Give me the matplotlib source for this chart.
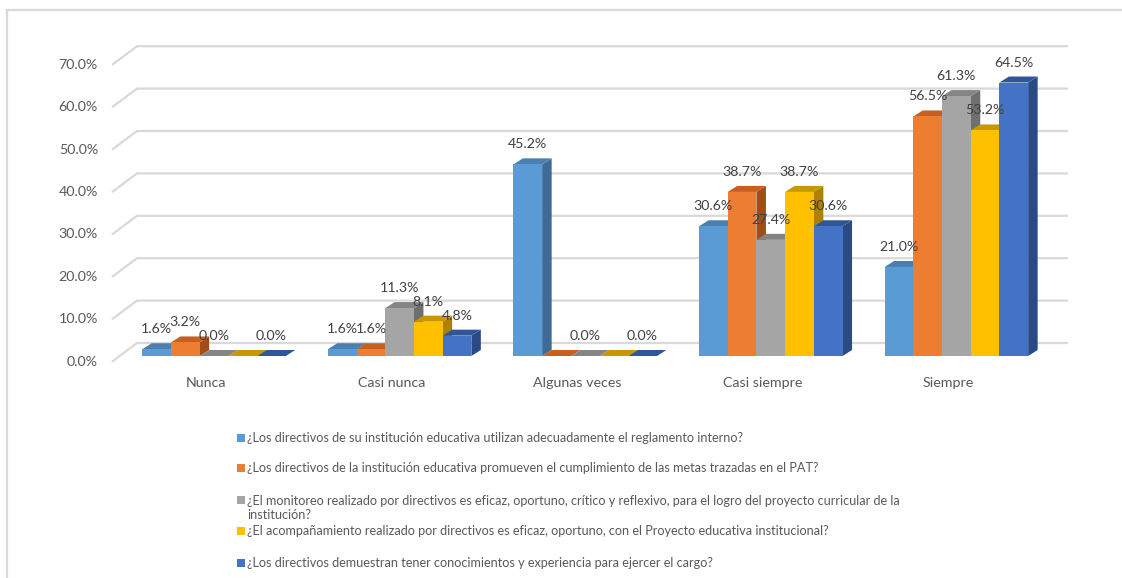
import matplotlib
matplotlib.use("Agg")
import matplotlib.pyplot as plt
from matplotlib.patches import Polygon, Rectangle

plt.rcParams['font.family'] = ['Lato', 'DejaVu Sans']

# respuestas por categoría (%)
categorias = ["Nunca", "Casi nunca", "Algunas veces", "Casi siempre", "Siempre"]
reglamento = [1.6, 1.6, 45.2, 30.6, 21.0]
metas_pat = [3.2, 1.6, 0.0, 38.7, 56.5]
monitoreo = [0.0, 11.3, 0.0, 27.4, 61.3]
acompanamiento = [0.0, 8.1, 0.0, 38.7, 53.2]
conocimientos = [0.0, 4.8, 0.0, 30.6, 64.5]
ticks_y = [0, 10, 20, 30, 40, 50, 60, 70]

preguntas = [
    "¿Los directivos de su institución educativa utilizan adecuadamente el reglamento interno?",
    "¿Los directivos de la institución educativa promueven el cumplimiento de las metas trazadas en el PAT?",
    "¿El monitoreo realizado por directivos es eficaz, oportuno, crítico y reflexivo, para el logro del proyecto curricular de la\ninstitución?",
    "¿El acompañamiento realizado por directivos es eficaz, oportuno, con el Proyecto educativa institucional?",
    "¿Los directivos demuestran tener conocimientos y experiencia para ejercer el cargo?",
]
series = [reglamento, metas_pat, monitoreo, acompanamiento, conocimientos]

# etiquetas que no se muestran: (categoría, serie)
ocultas = {(0, 3), (2, 1), (2, 3)}

frente = ["#5B9BD5", "#ED7D31", "#A5A5A5", "#FFC000", "#4472C4"]
tapa = ["#4A7FB0", "#C65F20", "#858585", "#C99700", "#30569A"]
lado = ["#3E6A94", "#A24C16", "#6F6F6F", "#AE8200", "#2A4A84"]

W, H = 1122, 578
fig = plt.figure(figsize=(W / 100, H / 100), dpi=100)
ax = fig.add_axes([0, 0, 1, 1])
ax.axis("off")

# escala: píxeles por unidad
sx, sy = 185.6, 4.24
x0, y0 = 214, 356
ax.set_xlim(-x0 / sx, (W - x0) / sx)
ax.set_ylim((y0 - H) / sy, y0 / sy)

gris = "#595959"
linea = "#D9D9D9"

# pared de fondo con las líneas de división
atras_dy = 13 / sy
frente_dy = -5.7 / sy
xa, xb, xf = (137 - x0) / sx, (1068 - x0) / sx, (112 - x0) / sx
for v in ticks_y:
    ax.plot([xf, xa, xb], [v + frente_dy, v + atras_dy, v + atras_dy],
            color=linea, lw=1.6, zorder=1, solid_capstyle="butt")
    ax.text((98 - x0) / sx, v + frente_dy, f"{v:.1f}%", ha="right", va="center",
            fontsize=10.3, color=gris)

ancho = 28.7 / sx
ddx, ddy = 9.5 / sx, 6 / sy

for i, cat in enumerate(categorias):
    izq0 = i - 2.5 * ancho
    for j, vals in enumerate(series):
        v = vals[i]
        izq = izq0 + j * ancho
        der = izq + ancho
        ax.add_patch(Polygon([(der, 0), (der + ddx, ddy), (der + ddx, v + ddy), (der, v)],
                             closed=True, facecolor=lado[j], edgecolor="none", zorder=2))
        ax.add_patch(Polygon([(izq, v), (izq + ddx, v + ddy), (der + ddx, v + ddy), (der, v)],
                             closed=True, facecolor=tapa[j], edgecolor="none", zorder=2))
        ax.bar(izq, v, width=ancho, align="edge", color=frente[j], zorder=2)
    for j, vals in enumerate(series):
        if (i, j) in ocultas:
            continue
        v = vals[i]
        ax.text(izq0 + (j + 0.5) * ancho, v + 20 / sy, f"{v:.1f}%",
                ha="center", va="center", fontsize=10.2, color="#404040", zorder=5)
    ax.text(i - 8 / sx, (y0 - 383) / sy, cat, ha="center", va="center",
            fontsize=10.3, color=gris)

# leyenda: (centro del texto, centro del cuadro)
filas = [(437.7, 437.7), (468, 468), (507.9, 500), (530.7, 530.7), (563, 563)]
for j, texto in enumerate(preguntas):
    yt, ym = filas[j]
    fig.patches.append(Rectangle((237 / W, 1 - (ym + 4) / H), 8 / W, 8 / H,
                                 transform=fig.transFigure, facecolor=frente[j],
                                 edgecolor="none"))
    fig.text(247 / W, 1 - yt / H, texto, ha="left", va="center", fontsize=9.1,
             color=gris, linespacing=1.25)

# marco del área del gráfico
fig.lines.append(plt.Line2D([7 / W, 7 / W], [0, 1 - 10 / H], transform=fig.transFigure,
                            color=linea, lw=1.6))
fig.lines.append(plt.Line2D([7 / W, 1], [1 - 10 / H, 1 - 10 / H], transform=fig.transFigure,
                            color=linea, lw=1.6))

fig.savefig("out.png", dpi=100)
